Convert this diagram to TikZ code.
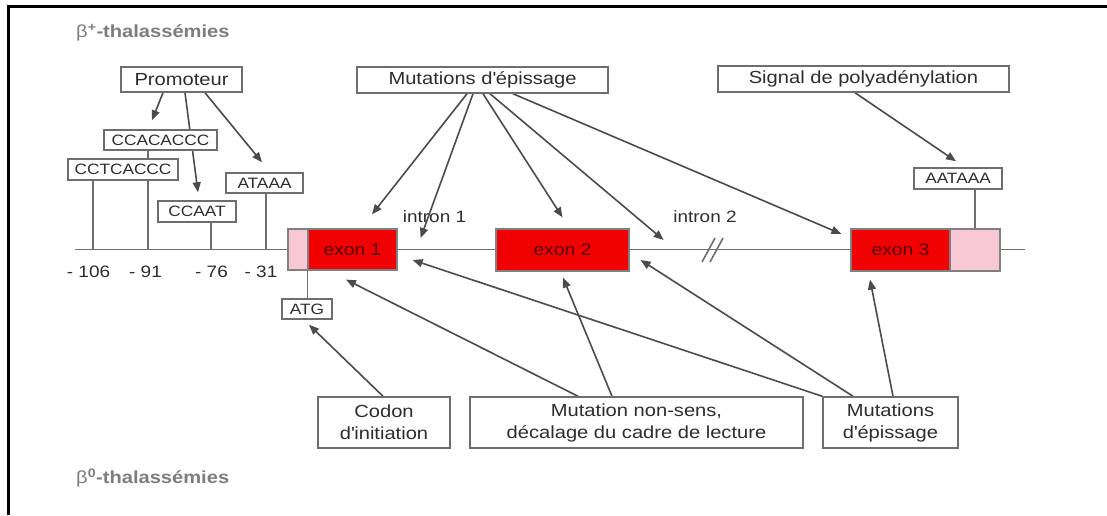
\documentclass[tikz,border=0pt]{standalone}
\usepackage{fontspec}
\setmainfont[FakeStretch=1.15]{Liberation Sans}
\usetikzlibrary{arrows.meta,backgrounds}
\definecolor{exonred}{RGB}{240,0,0}
\definecolor{utrpink}{RGB}{248,200,214}
\definecolor{exontext}{RGB}{90,0,0}
\definecolor{linegray}{RGB}{75,75,75}
\definecolor{boxgray}{RGB}{110,110,110}
\definecolor{txtgray}{RGB}{45,45,45}
\definecolor{titlegray}{RGB}{125,125,125}

\begin{document}
\begin{tikzpicture}[x=1pt,y=-1pt]
    \tikzset{lbl/.style={draw=boxgray, line width=1.5pt, fill=white, text=txtgray, inner sep=0pt, font=\fontsize{17.5}{22}\selectfont},
        seq/.style={lbl, font=\fontsize{15}{18}\selectfont},
        exon/.style={draw=gray, line width=1.2pt, fill=exonred, inner sep=0pt, text=exontext, font=\fontsize{16.8}{20}\selectfont},
        utr/.style={draw=gray, line width=1.2pt, fill=utrpink, inner sep=0pt},
        poslbl/.style={text=txtgray, inner sep=0pt, font=\fontsize{16.5}{20}\selectfont},
        title/.style={anchor=west, text=titlegray, inner sep=0pt, font=\fontsize{17.5}{22}\selectfont\bfseries},
        arr/.style={color=linegray, line width=1.6pt, -{Triangle[length=10pt,width=8pt]}},
        tick/.style={draw=boxgray, line width=1.6pt}}
    \useasboundingbox (0,0) rectangle (1107,515);
    \draw[line width=3pt] (8.5,515) -- (8.5,6) -- (1107,6);

    % titles
    \node[title] (bplus) at (76,33) {{\mdseries β}\textsuperscript{+}-thalassémies};
    \node[title] (bzero) at (76,478) {{\mdseries β}\textsuperscript{0}-thalassémies};

    % top labels
    \node[lbl, minimum width=121pt, minimum height=25pt] (promo) at (181.5,79.5) {Promoteur};
    \node[lbl, minimum width=251pt, minimum height=26pt] (splice) at (482.5,80) {Mutations d\textquotesingle épissage};
    \node[lbl, minimum width=291pt, minimum height=26pt] (polyA) at (863.5,79) {Signal de polyadénylation};

    % sequence boxes
    \node[seq, minimum width=113pt, minimum height=20pt] (ccaca) at (160.5,140) {CCACACCC};
    \node[seq, minimum width=110pt, minimum height=21pt] (cctca) at (123,169.5) {CCTCACCC};
    \node[seq, minimum width=78pt, minimum height=21pt] (ccaat) at (197,211.5) {CCAAT};
    \node[seq, minimum width=77pt, minimum height=20pt] (ataaa) at (264.5,183) {ATAAA};
    \node[seq, minimum width=88pt, minimum height=21pt] (aataaa) at (958,178.5) {AATAAA};
    \node[seq, minimum width=50pt, minimum height=20pt] (atg) at (307,309) {ATG};

    % gene
    \node[utr, minimum width=20pt, minimum height=41pt] (utr5) at (298,249.5) {};
    \node[exon, minimum width=89pt, minimum height=41pt] (exon1) at (352.5,249.5) {exon 1};
    \node[exon, minimum width=133pt, minimum height=42pt] (exon2) at (562.5,250) {exon 2};
    \node[exon, minimum width=99pt, minimum height=42pt] (exon3) at (900.5,250) {exon 3};
    \node[utr, minimum width=50pt, minimum height=42pt] (utr3) at (975,250) {};
    \node[poslbl] (intron1) at (434.5,217) {intron 1};
    \node[poslbl] (intron2) at (705,217) {intron 2};

    % positions
    \coordinate (p106) at (93,249.5);
    \coordinate (p91) at (148,249.5);
    \coordinate (p76) at (211,249.5);
    \coordinate (p31) at (266,249.5);
    \node[poslbl] (l106) at (88.5,272) {- 106};
    \node[poslbl] (l91) at (145.5,272) {- 91};
    \node[poslbl] (l76) at (211.5,272) {- 76};
    \node[poslbl] (l31) at (261,272) {- 31};

    % bottom labels
    \node[lbl, align=center, minimum width=132pt, minimum height=51pt] (codon) at (384,422.5) {Codon\\d\textquotesingle initiation};
    \node[lbl, align=center, minimum width=333pt, minimum height=51pt] (nonsens) at (636.5,422.5) {Mutation non-sens,\\décalage du cadre de lecture};
    \node[lbl, align=center, minimum width=135pt, minimum height=51pt] (splice2) at (890.5,422.5) {Mutations\\d\textquotesingle épissage};

    \begin{scope}[on background layer]
        \coordinate (dnaL) at (75,249.5);
        \coordinate (dnaR) at (1025,249.5);
        \draw[tick] (dnaL) -- (dnaR);
        \draw[tick] (702,262) -- (715,238) (710,262) -- (723,238);
        \draw[tick] (p106) -- (p106 |- cctca.south);
        \draw[tick] (p91) -- (p91 |- ccaca.south);
        \draw[tick] (p76) -- (p76 |- ccaat.south);
        \draw[tick] (p31) -- (p31 |- ataaa.south);
        \draw[tick] (utr3.north) -- (utr3.north |- aataaa.south);
        \draw[tick] (exon1.south west) -- (exon1.south west |- atg.north);

        \path[arr]
            ([xshift=-18.5pt]promo.south) edge ([xshift=-8.5pt,yshift=9pt]ccaca.north)
            ([xshift=3.5pt]promo.south) edge ([xshift=1pt,yshift=8pt]ccaat.north)
            ([xshift=23.5pt]promo.south) edge ([xshift=-2.5pt,yshift=10pt]ataaa.north);
        \path[arr]
            ([xshift=-15.5pt]splice.south) edge ([xshift=19.5pt,yshift=14pt]exon1.north)
            ([xshift=-9.5pt]splice.south) edge ([xshift=23pt,yshift=11.5pt]exon1.east)
            ([xshift=0.5pt]splice.south) edge ([yshift=11pt]exon2.north)
            ([xshift=7.5pt]splice.south) edge ([xshift=34pt,yshift=10pt]exon2.east)
            ([xshift=30.5pt]splice.south) edge ([xshift=-9pt,yshift=16pt]exon3.west);
        \path[arr]
            ([xshift=-8.5pt]polyA.south) edge ([xshift=-2pt,yshift=6pt]aataaa.north);
        \path[arr]
            ([xshift=-1pt]codon.north) edge ([xshift=2pt,yshift=-5pt]atg.south)
            ([xshift=-58.5pt]nonsens.north) edge ([xshift=-6.5pt,yshift=-9pt]exon1.south)
            ([xshift=-24.5pt]nonsens.north) edge ([xshift=0.5pt,yshift=-6pt]exon2.south)
            (splice2.north west) edge ([xshift=15pt,yshift=-10.5pt]exon1.east)
            ([xshift=-37.5pt]splice2.north) edge ([xshift=11pt,yshift=-10pt]exon2.east)
            ([xshift=2.5pt]splice2.north) edge ([xshift=-30.5pt,yshift=-8pt]exon3.south);
    \end{scope}
\end{tikzpicture}
\end{document}
